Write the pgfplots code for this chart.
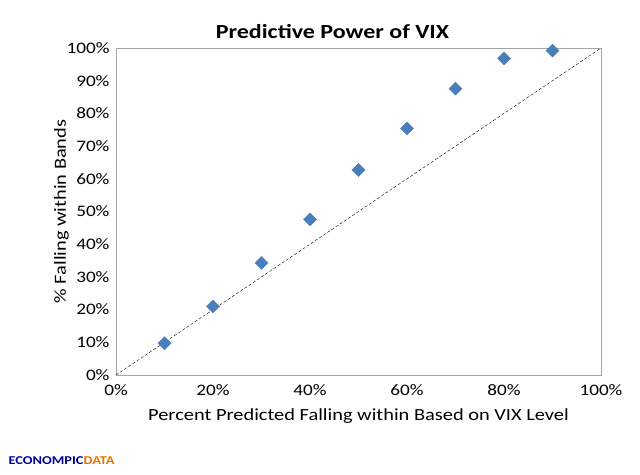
\documentclass[border=0pt]{standalone}
\usepackage{pgfplots}
\pgfplotsset{compat=1.18}
\usepackage{fontspec}
\setmainfont{Carlito}[FakeStretch=1.2]
\begin{document}
\begin{tikzpicture}
\path[use as bounding box] (0,0) rectangle (640pt,474pt);
\begin{axis}[at={(116pt,99pt)},anchor=south west,width=485pt,height=327pt,scale only axis,
 xmin=0,xmax=100,ymin=0,ymax=100,xtick={0,20,...,100},ytick={0,10,...,100},
 xticklabel={\pgfmathprintnumber{\tick}\%},yticklabel={\pgfmathprintnumber{\tick}\%},
 /pgf/number format/assume math mode=true,
 ticklabel style={font=\fontsize{16}{16}\selectfont},
 xticklabel style={yshift=-6pt},yticklabel style={xshift=-3pt},
 tick style={draw=none},
 title={\textbf{Predictive Power of VIX}},title style={font=\fontsize{20}{20}\selectfont,xshift=-26pt},
 xlabel={Percent Predicted Falling within Based on VIX Level},
 ylabel={\% Falling within Bands},
 xlabel style={yshift=-6pt},ylabel style={yshift=-9pt},
 label style={font=\fontsize{17}{17}\selectfont},
 axis line style={gray!70}]
\addplot[black,densely dashed,thin,forget plot] coordinates {(0,0)(100,100)};
\addplot[only marks,mark=square*,mark options={rotate=45},mark size=4.6pt,color={rgb,255:red,74;green,126;blue,187}] coordinates {
(10,9.7)(20,21)(30,34.3)(40,47.6)(50,62.7)(60,75.4)(70,87.6)(80,96.8)(90,99.2)};
\end{axis}
\node[anchor=west,font=\bfseries\fontsize{12}{12}\selectfont] at (5pt,13pt) {\textcolor{blue!60!black}{ECONOMPIC}\textcolor{orange!90!black}{DATA}};
\end{tikzpicture}
\end{document}
